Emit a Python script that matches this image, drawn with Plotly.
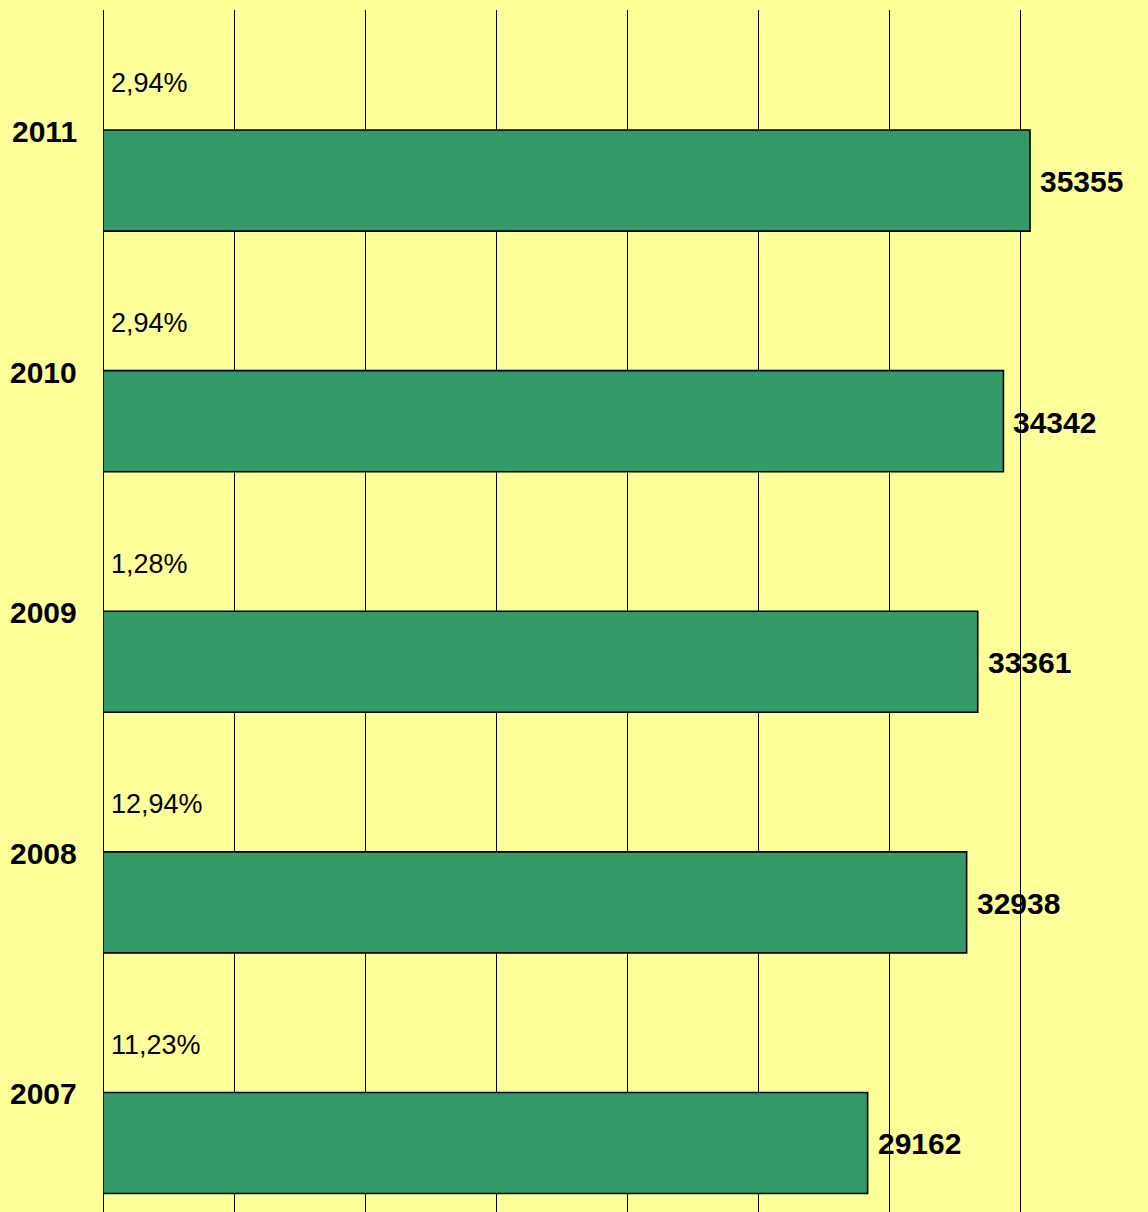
import plotly.graph_objects as go

years = [2007, 2008, 2009, 2010, 2011]
values = [29162, 32938, 33361, 34342, 35355]
growth = ["11,23%", "12,94%", "1,28%", "2,94%", "2,94%"]

BG = "#FFFF99"
BAR = "#339966"
FONT = "Liberation Sans, Arial, sans-serif"

fig = go.Figure()
fig.add_trace(go.Bar(
    x=values, y=years, orientation="h", width=0.42,
    marker=dict(color=BAR, line=dict(color="black", width=1.6)),
    hoverinfo="skip",
))

annotations = []
for yr, v, g in zip(years, values, growth):
    annotations.append(dict(
        x=v, y=yr, xref="x", yref="y", text=f"<b>{v}</b>", showarrow=False,
        xanchor="left", yanchor="middle", xshift=8, yshift=-1,
        font=dict(family=FONT, size=30, color="black")))
    annotations.append(dict(
        x=0, y=yr, xref="x", yref="y", text=g, showarrow=False,
        xanchor="left", yanchor="middle", xshift=6, yshift=98,
        font=dict(family=FONT, size=27, color="black")))
    annotations.append(dict(
        x=0, y=yr, xref="paper", yref="y", text=f"<b>{yr}</b>", showarrow=False,
        xanchor="right", yanchor="middle", xshift=-24, yshift=49,
        font=dict(family=FONT, size=30, color="black")))

fig.update_layout(
    width=1148, height=1212,
    paper_bgcolor=BG, plot_bgcolor=BG,
    margin=dict(l=103, r=0, t=10, b=0),
    showlegend=False,
    annotations=annotations,
    xaxis=dict(range=[0, 39855], dtick=5000, tick0=0, showgrid=True,
               gridcolor="black", gridwidth=1, showticklabels=False,
               zeroline=True, zerolinecolor="black", zerolinewidth=1,
               ticks="", fixedrange=True),
    yaxis=dict(range=[2006.713, 2011.709], showgrid=False, showticklabels=False,
               zeroline=False, ticks="", fixedrange=True),
)

fig.write_html("out.html", config={"displayModeBar": False},
               post_script="document.body.style.margin='0';document.body.style.overflow='hidden';")
